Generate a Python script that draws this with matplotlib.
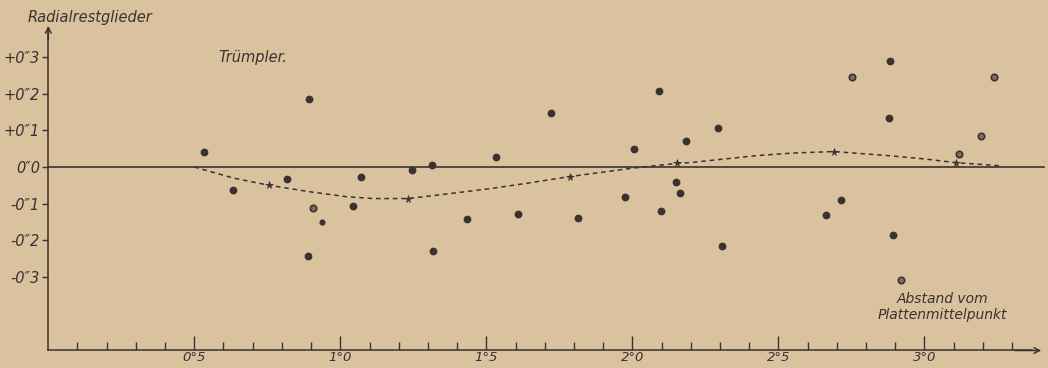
import matplotlib.pyplot as plt

# Radialrestglieder (Trümpler)
dot_x = [0.534, 0.634, 0.818, 0.894, 0.889, 1.070, 1.045, 1.245, 1.314, 1.316,
         1.433, 1.532, 1.607, 1.722, 1.813, 1.975, 2.005, 2.092, 2.099, 2.150,
         2.162, 2.184, 2.295, 2.308, 2.662, 2.714, 2.880, 2.884, 2.894]
dot_y = [0.040, -0.062, -0.034, 0.186, -0.243, -0.028, -0.107, -0.009, 0.005, -0.228,
         -0.143, 0.028, -0.129, 0.147, -0.139, -0.081, 0.048, 0.207, -0.120, -0.042,
         -0.071, 0.071, 0.107, -0.215, -0.131, -0.089, 0.134, 0.290, -0.184]

small_x = [0.938]
small_y = [-0.149]

ring_x = [0.908, 2.753, 2.921, 3.120, 3.193, 3.240]
ring_y = [-0.113, 0.246, -0.309, 0.035, 0.084, 0.244]

# Mittelkurve (gestrichelt) und Sternpunkte
curve_x = [0.50, 0.633, 0.757, 0.90, 1.022, 1.113, 1.231, 1.37, 1.513, 1.65, 1.787,
           2.003, 2.154, 2.198, 2.426, 2.55, 2.691, 2.878, 3.00, 3.107, 3.265]
curve_y = [0.000, -0.030, -0.050, -0.068, -0.081, -0.086, -0.086, -0.073, -0.059, -0.043, -0.026,
           -0.003, 0.010, 0.012, 0.031, 0.038, 0.042, 0.031, 0.022, 0.012, 0.003]
star_x = [0.757, 1.231, 1.787, 2.154, 2.691, 3.107]
star_y = [-0.050, -0.086, -0.026, 0.010, 0.042, 0.012]

x_major = [0.5, 1.0, 1.5, 2.0, 2.5, 3.0]
x_labels = ['0°5', '1°0', '1°5', '2°0', '2°5', '3°0']
x_minor = [i / 10 for i in range(1, 34)]
y_ticks = [0.3, 0.2, 0.1, 0.0, -0.1, -0.2, -0.3]
y_labels = ['+0″3', '+0″2', '+0″1', '0″0', '-0″1', '-0″2', '-0″3']

paper = '#dac29f'
ink = '#3a3230'

fig = plt.figure(figsize=(10.48, 3.68), dpi=100, facecolor=paper)
ax = fig.add_axes([0, 0, 1, 1], facecolor=paper)
ax.set_xlim(-0.1654, 3.4236)
ax.set_ylim(-0.5477, 0.455)

for s in ['top', 'right']:
    ax.spines[s].set_visible(False)
ax.spines['left'].set_position(('data', 0))
ax.spines['bottom'].set_position(('data', -0.5))
ax.spines['left'].set_bounds(-0.5, 0.375)
ax.spines['bottom'].set_bounds(0, 3.37)
for s in ['left', 'bottom']:
    ax.spines[s].set_color(ink)
    ax.spines[s].set_linewidth(1.1)

ax.annotate('', xy=(0, 0.392), xytext=(0, 0.34),
            arrowprops=dict(arrowstyle='->', color=ink, lw=1.1))
ax.annotate('', xy=(3.41, -0.5), xytext=(3.3, -0.5),
            arrowprops=dict(arrowstyle='->', color=ink, lw=1.1))

tfont = dict(family='DejaVu Sans', style='italic', size=10.5, color=ink)

ax.set_xticks(x_major)
ax.set_xticklabels(x_labels, family='DejaVu Sans', style='italic', size=9.5, color=ink)
ax.set_xticks(x_minor, minor=True)
ax.tick_params(axis='x', which='major', direction='in', length=10, width=1, color=ink, pad=0.5)
ax.tick_params(axis='x', which='minor', direction='in', length=5.5, width=1, color=ink)

ax.set_yticks(y_ticks)
ax.set_yticklabels(y_labels, **tfont)
ax.tick_params(axis='y', which='major', direction='out', length=4, width=1, color=ink, pad=2)

# Nulllinie
ax.plot([0, 3.41], [0, 0], color=ink, lw=1.2)

ax.plot(curve_x, curve_y, color=ink, lw=1.1, linestyle=(0, (3, 2.5)))
ax.plot(star_x, star_y, linestyle='none', marker='*', ms=5.5, color=ink, mew=0.5)

ax.plot(dot_x, dot_y, linestyle='none', marker='o', ms=4.6, color=ink)
ax.plot(small_x, small_y, linestyle='none', marker='o', ms=3.4, color=ink)
ax.plot(ring_x, ring_y, linestyle='none', marker='o', ms=4.6, mfc='#7d6f63', mec=ink, mew=1.2)

ax.text(-0.0695, 0.406, 'Radialrestglieder', ha='left', va='center',
        family='DejaVu Sans', style='italic', size=10.5, color=ink)
ax.text(0.581, 0.297, 'Trümpler.', ha='left', va='center',
        family='DejaVu Sans', style='italic', size=10.5, color=ink)
ax.text(3.062, -0.381, 'Abstand vom\nPlattenmittelpunkt', ha='center', va='center',
        family='DejaVu Sans', style='italic', size=10, color=ink, linespacing=1.15)

fig.savefig('out.png', dpi=100, facecolor=paper)
